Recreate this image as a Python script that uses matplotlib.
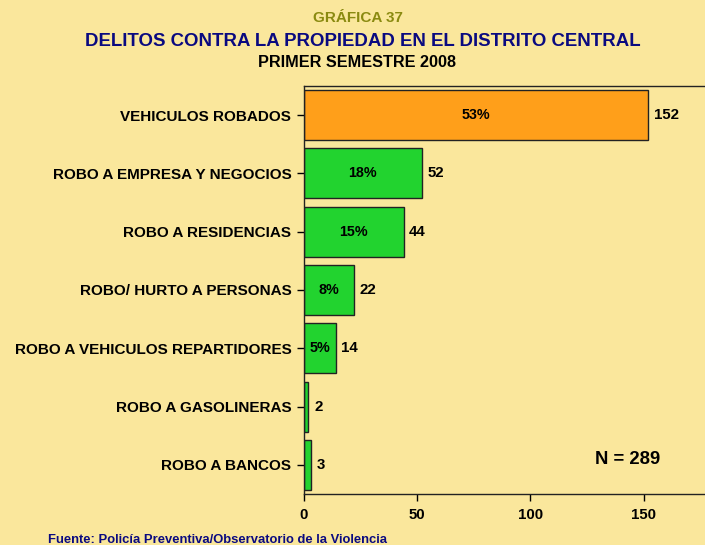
import numpy as np
from matplotlib import pyplot as plt

plt.rcParams["font.family"] = ["Liberation Sans", "DejaVu Sans"]
plt.rcParams["font.weight"] = "bold"

# Property crimes, first half of 2008
categorias = [
    "VEHICULOS ROBADOS",
    "ROBO A EMPRESA Y NEGOCIOS",
    "ROBO A RESIDENCIAS",
    "ROBO/ HURTO A PERSONAS",
    "ROBO A VEHICULOS REPARTIDORES",
    "ROBO A GASOLINERAS",
    "ROBO A BANCOS",
]
casos = [152, 52, 44, 22, 14, 2, 3]
porcentajes = ["53%", "18%", "15%", "8%", "5%", "", ""]
total = 289

fondo = "#FAE79C"
colores = ["#FF9F1A"] + ["#22D32F"] * (len(casos) - 1)

fig = plt.figure(figsize=(7.05, 5.45), dpi=100, facecolor=fondo)
ax = fig.add_axes([0.431, 0.0936, 0.575, 0.7486])
ax.set_facecolor(fondo)

y = np.arange(len(categorias))
ax.barh(y, casos, height=0.86, color=colores, edgecolor="#222222", linewidth=1.0)

for yi, v, p in zip(y, casos, porcentajes):
    ax.text(v + 2.5, yi, str(v), va="center", ha="left", fontsize=10.8, fontweight="bold")
    if p:
        ax.text(v / 2, yi, p, va="center", ha="center", fontsize=10.3, fontweight="bold")

ax.set_ylim(len(categorias) - 0.5, -0.5)
ax.set_xlim(0, 179)
ax.set_yticks(y)
ax.set_yticklabels(categorias, fontsize=11, fontweight="bold")
ax.set_xticks([0, 50, 100, 150])
ax.set_xticklabels(["0", "50", "100", "150"], fontsize=10.8, fontweight="bold")
ax.tick_params(axis="y", length=5, width=1, pad=4)
ax.tick_params(axis="x", length=5, width=1, pad=5)
for s in ["left", "bottom", "top"]:
    ax.spines[s].set_linewidth(1.0)
    ax.spines[s].set_color("#222222")
ax.spines["right"].set_visible(False)

ax.text(143, 5.9, f"N = {total}", ha="center", va="center", fontsize=13.3, fontweight="bold")

fig.text(0.508, 0.967, "GRÁFICA 37", ha="center", va="center", fontsize=11,
         fontweight="bold", color="#8A8A10")
fig.text(0.515, 0.923, "DELITOS CONTRA LA PROPIEDAD EN EL DISTRITO CENTRAL", ha="center",
         va="center", fontsize=13.4, fontweight="bold", color="#0A0A80")
fig.text(0.507, 0.886, "PRIMER SEMESTRE 2008", ha="center", va="center", fontsize=11.7,
         fontweight="bold", color="black")
fig.text(0.068, 0.010, "Fuente: Policía Preventiva/Observatorio de la Violencia", ha="left",
         va="center", fontsize=9.4, fontweight="bold", color="#0A0A80")

fig.savefig("out.png", dpi=100, facecolor=fondo)
